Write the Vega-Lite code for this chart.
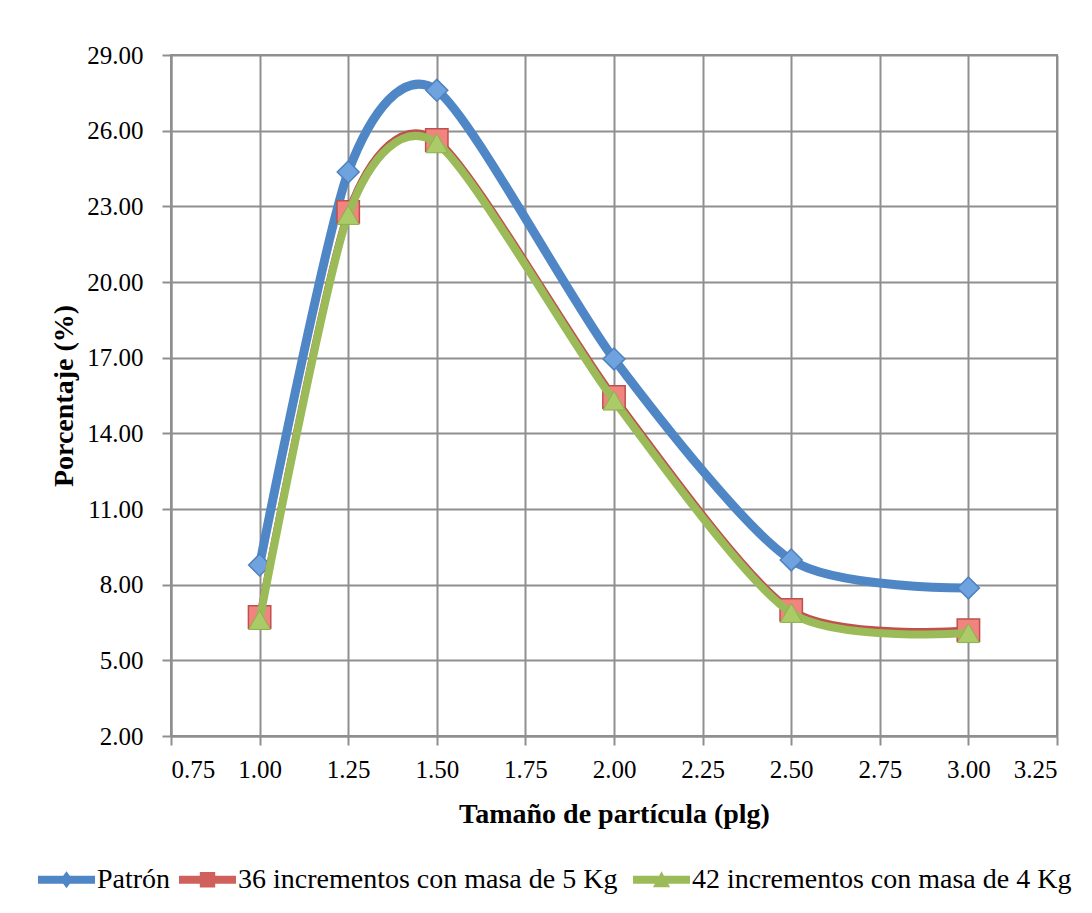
{
  "$schema": "https://vega.github.io/schema/vega-lite/v6.json",
  "autosize": {"type": "none"},
  "width": 886,
  "height": 681,
  "padding": {"left": 171, "top": 55, "right": 35, "bottom": 177},
  "background": "white",
  "config": {
    "font": "Liberation Serif",
    "view": {"stroke": "#8f8f8f", "strokeWidth": 2},
    "axis": {
      "labelFont": "Liberation Serif",
      "labelFontSize": 25,
      "labelColor": "#000000",
      "titleFont": "Liberation Serif",
      "titleFontSize": 28,
      "titleFontWeight": "bold",
      "titleColor": "#000000",
      "gridColor": "#8f8f8f",
      "gridWidth": 2,
      "gridOpacity": 1,
      "domainColor": "#8f8f8f",
      "domainWidth": 2,
      "tickColor": "#8f8f8f",
      "tickWidth": 2,
      "tickSize": 9
    },
    "legend": {
      "labelFont": "Liberation Serif",
      "labelFontSize": 28,
      "labelColor": "#000000",
      "labelLimit": 0,
      "padding": 0
    }
  },
  "data": {
    "values": [
      {"series": "Patrón", "x": 1.0, "y": 8.78},
      {"series": "Patrón", "x": 1.25, "y": 24.36},
      {"series": "Patrón", "x": 1.5, "y": 27.6},
      {"series": "Patrón", "x": 2.0, "y": 16.95},
      {"series": "Patrón", "x": 2.5, "y": 8.98},
      {"series": "Patrón", "x": 3.0, "y": 7.87},
      {"series": "36  incrementos con masa de 5 Kg", "x": 1.0, "y": 6.72},
      {"series": "36  incrementos con masa de 5 Kg", "x": 1.25, "y": 22.78},
      {"series": "36  incrementos con masa de 5 Kg", "x": 1.5, "y": 25.63},
      {"series": "36  incrementos con masa de 5 Kg", "x": 2.0, "y": 15.44},
      {"series": "36  incrementos con masa de 5 Kg", "x": 2.5, "y": 7.0},
      {"series": "36  incrementos con masa de 5 Kg", "x": 3.0, "y": 6.2},
      {"series": "42 incrementos con masa de 4 Kg", "x": 1.0, "y": 6.6},
      {"series": "42 incrementos con masa de 4 Kg", "x": 1.25, "y": 22.66},
      {"series": "42 incrementos con masa de 4 Kg", "x": 1.5, "y": 25.5},
      {"series": "42 incrementos con masa de 4 Kg", "x": 2.0, "y": 15.3},
      {"series": "42 incrementos con masa de 4 Kg", "x": 2.5, "y": 6.88},
      {"series": "42 incrementos con masa de 4 Kg", "x": 3.0, "y": 6.08}
    ]
  },
  "encoding": {
    "x": {
      "field": "x",
      "type": "quantitative",
      "scale": {"domain": [0.75, 3.25], "nice": false, "zero": false},
      "axis": {
        "title": "Tamaño de partícula  (plg)",
        "values": [0.75, 1.0, 1.25, 1.5, 1.75, 2.0, 2.25, 2.5, 2.75, 3.0, 3.25],
        "format": ".2f",
        "labelPadding": 12,
        "titlePadding": 18
      }
    },
    "y": {
      "field": "y",
      "type": "quantitative",
      "scale": {"domain": [2, 29], "nice": false, "zero": false},
      "axis": {
        "title": "Porcentaje (%)",
        "values": [2, 5, 8, 11, 14, 17, 20, 23, 26, 29],
        "format": ".2f",
        "labelPadding": 19,
        "titlePadding": 8
      }
    }
  },
  "layer": [
    {
      "transform": [{"filter": "datum.series == 'Patrón'"}],
      "mark": {"type": "line", "interpolate": "cardinal", "tension": 0.25, "stroke": "#4F86C6", "strokeWidth": 9, "strokeCap": "round"}
    },
    {
      "transform": [{"filter": "datum.series == 'Patrón'"}],
      "mark": {"type": "point", "shape": "diamond", "filled": true, "fill": "#6FA3E0", "stroke": "#4F81BD", "strokeWidth": 1.5, "size": 480, "opacity": 1}
    },
    {
      "transform": [{"filter": "datum.series == '36  incrementos con masa de 5 Kg'"}],
      "mark": {"type": "line", "interpolate": "cardinal", "tension": 0.25, "stroke": "#C0504D", "strokeWidth": 7, "strokeCap": "round"}
    },
    {
      "transform": [{"filter": "datum.series == '36  incrementos con masa de 5 Kg'"}],
      "mark": {"type": "point", "shape": "square", "filled": true, "fill": "#F0857F", "stroke": "#C0504D", "strokeWidth": 1.5, "size": 500, "opacity": 1}
    },
    {
      "transform": [{"filter": "datum.series == '42 incrementos con masa de 4 Kg'"}],
      "mark": {"type": "line", "interpolate": "cardinal", "tension": 0.25, "stroke": "#9BBB59", "strokeWidth": 8, "strokeCap": "round"}
    },
    {
      "transform": [{"filter": "datum.series == '42 incrementos con masa de 4 Kg'"}],
      "mark": {"type": "point", "shape": "triangle-up", "filled": true, "fill": "#AACB68", "stroke": "#8DB04A", "strokeWidth": 1, "size": 480, "opacity": 1}
    },
    {
      "mark": {"type": "point", "filled": true, "opacity": 0},
      "encoding": {
        "color": {
          "field": "series",
          "type": "nominal",
          "scale": {
            "domain": ["Patrón", "36  incrementos con masa de 5 Kg", "42 incrementos con masa de 4 Kg"],
            "range": ["#4F86C6", "#D0605C", "#9BBB59"]
          },
          "legend": {
            "title": null,
            "orient": "none",
            "direction": "horizontal",
            "columns": 3,
            "legendX": -133,
            "legendY": 796,
            "symbolSize": 3249,
            "symbolOpacity": 1,
            "symbolStrokeWidth": 0,
            "labelOffset": 2,
            "labelLimit": 0,
            "columnPadding": 8
          }
        },
        "shape": {
          "field": "series",
          "type": "nominal",
          "scale": {
            "domain": ["Patrón", "36  incrementos con masa de 5 Kg", "42 incrementos con masa de 4 Kg"],
            "range": [
              "M-1,-0.14H1V0.14H-1Z M0,-0.3L0.22,0L0,0.3L-0.22,0Z",
              "M-1,-0.14H1V0.14H-1Z M-0.27,-0.27H0.27V0.27H-0.27Z",
              "M-1,-0.14H1V0.14H-1Z M0,-0.3L0.3,0.26H-0.3Z"
            ]
          },
          "legend": {
            "title": null,
            "orient": "none",
            "direction": "horizontal",
            "columns": 3,
            "legendX": -133,
            "legendY": 796,
            "symbolSize": 3249,
            "symbolOpacity": 1,
            "symbolStrokeWidth": 0,
            "labelOffset": 2,
            "labelLimit": 0,
            "columnPadding": 8
          }
        }
      }
    }
  ]
}
